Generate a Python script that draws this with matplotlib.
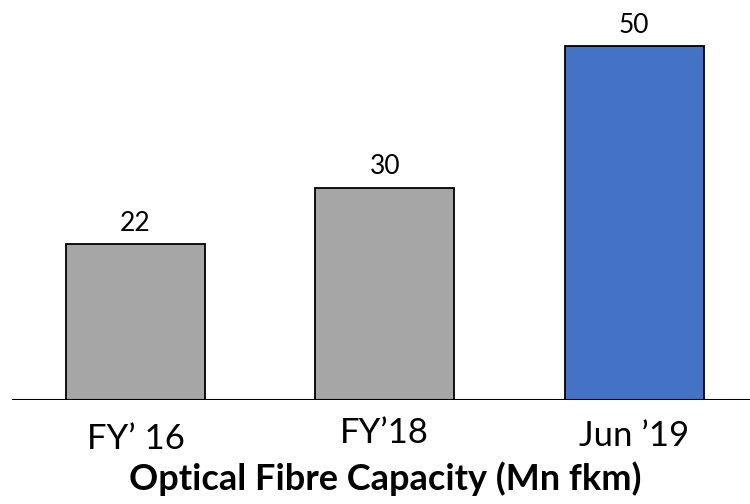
import matplotlib
matplotlib.use("Agg")
import matplotlib.pyplot as plt

plt.rcParams['font.family'] = ['Lato', 'DejaVu Sans']

# optical fibre capacity, Mn fkm
periods = ["FY\u2019 16", "FY\u201918", "Jun \u201919"]
capacity = [22, 30, 50]
bar_colors = ["#A6A6A6", "#A6A6A6", "#4472C4"]
# small per-label vertical shifts (pixels) for the category names
label_shift = [0, 6, 3]

fig = plt.figure(figsize=[7.5, 5.04], dpi=100)
ax = fig.add_axes([12 / 750, 104 / 504, 738 / 750, 396 / 504])

x = list(range(len(periods)))
bars = ax.bar(x, capacity, width=0.557, color=bar_colors,
              edgecolor="black", linewidth=1.3, zorder=2)

for xi, v in zip(x, capacity):
    ax.annotate(str(v), (xi, v), xytext=(0, 10), textcoords="offset points",
                ha="center", va="baseline", fontsize=19)

for xi, name, dy in zip(x, periods, label_shift):
    ax.annotate(name, (xi, 0), xytext=(0, (-49 + dy) / 1.389),
                textcoords="offset points", ha="center", va="baseline",
                fontsize=25, annotation_clip=False)

ax.set_xlim(-0.4955, 2.465)
ax.set_ylim(0, 56)
ax.axhline(0, color="black", linewidth=1.5, zorder=3)
for s in ax.spines.values():
    s.set_visible(False)
ax.set_xticks([])
ax.set_yticks([])

fig.text(385 / 750, 1 - 490 / 504, "Optical Fibre Capacity (Mn fkm)",
         ha="center", va="baseline", fontsize=26, fontweight="bold")

plt.savefig("out.png", dpi=100)
plt.close(fig)
